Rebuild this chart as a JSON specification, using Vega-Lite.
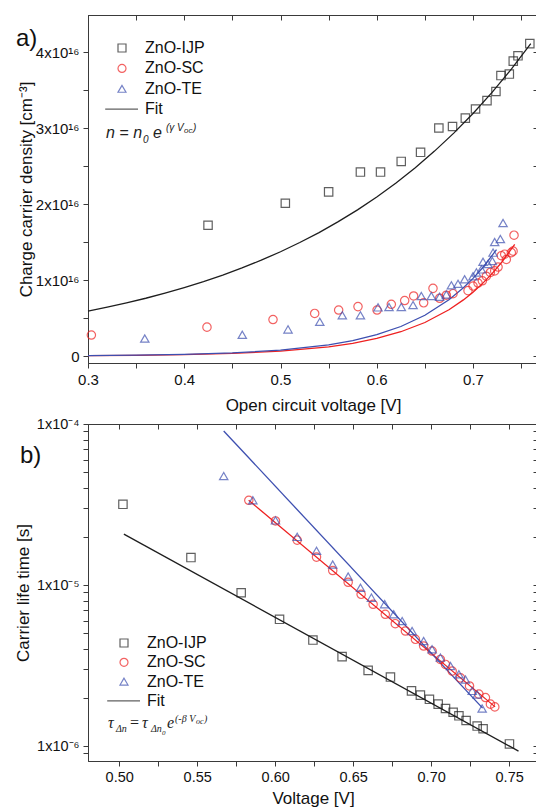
{
  "$schema": "https://vega.github.io/schema/vega-lite/v6.json",
  "padding": {"left": 13, "top": 14, "right": 1, "bottom": 0},
  "background": "white",
  "spacing": 1,
  "config": {
    "font": "Liberation Sans",
    "view": {"stroke": "#3a3a3a", "strokeWidth": 1},
    "axis": {"grid": false, "domainColor": "#3a3a3a", "tickColor": "#3a3a3a", "labelColor": "#111111", "titleColor": "#111111", "labelFont": "Liberation Sans", "titleFont": "Liberation Sans", "labelFontSize": 15, "titleFontSize": 17, "titleFontWeight": "normal", "tickSize": 5, "labelPadding": 4, "labelFlush": false, "labelOverlap": false},
    "legend": {"title": null, "labelFont": "Liberation Sans", "labelFontSize": 16, "labelColor": "#111111", "symbolSize": 64, "symbolStrokeWidth": 1.2, "labelOffset": 15, "padding": 0}
  },
  "datasets": {
    "topPoints": [
      {"series": "ZnO-IJP", "v": 0.4247, "n": 1.72e16}, {"series": "ZnO-IJP", "v": 0.505, "n": 2.01e16}, {"series": "ZnO-IJP", "v": 0.550, "n": 2.16e16}, {"series": "ZnO-IJP", "v": 0.583, "n": 2.42e16}, {"series": "ZnO-IJP", "v": 0.6039, "n": 2.42e16}, {"series": "ZnO-IJP", "v": 0.6254, "n": 2.56e16}, {"series": "ZnO-IJP", "v": 0.6455, "n": 2.68e16}, {"series": "ZnO-IJP", "v": 0.6645, "n": 3.00e16}, {"series": "ZnO-IJP", "v": 0.6787, "n": 3.02e16}, {"series": "ZnO-IJP", "v": 0.692, "n": 3.13e16}, {"series": "ZnO-IJP", "v": 0.7026, "n": 3.25e16}, {"series": "ZnO-IJP", "v": 0.7145, "n": 3.36e16}, {"series": "ZnO-IJP", "v": 0.7238, "n": 3.48e16}, {"series": "ZnO-IJP", "v": 0.729, "n": 3.69e16}, {"series": "ZnO-IJP", "v": 0.7377, "n": 3.71e16}, {"series": "ZnO-IJP", "v": 0.7418, "n": 3.88e16}, {"series": "ZnO-IJP", "v": 0.7467, "n": 3.95e16}, {"series": "ZnO-IJP", "v": 0.759, "n": 4.11e16},
      {"series": "ZnO-SC", "v": 0.3035, "n": 2.76e15}, {"series": "ZnO-SC", "v": 0.4236, "n": 3.8e15}, {"series": "ZnO-SC", "v": 0.4922, "n": 4.8e15}, {"series": "ZnO-SC", "v": 0.5355, "n": 5.6e15}, {"series": "ZnO-SC", "v": 0.5604, "n": 6.05e15}, {"series": "ZnO-SC", "v": 0.5805, "n": 6.5e15}, {"series": "ZnO-SC", "v": 0.6003, "n": 6.05e15}, {"series": "ZnO-SC", "v": 0.6151, "n": 6.8e15}, {"series": "ZnO-SC", "v": 0.629, "n": 7.3e15}, {"series": "ZnO-SC", "v": 0.6383, "n": 7.9e15}, {"series": "ZnO-SC", "v": 0.6487, "n": 7.0e15}, {"series": "ZnO-SC", "v": 0.6584, "n": 8.9e15}, {"series": "ZnO-SC", "v": 0.6654, "n": 7.6e15}, {"series": "ZnO-SC", "v": 0.6723, "n": 8.0e15}, {"series": "ZnO-SC", "v": 0.6792, "n": 8.2e15}, {"series": "ZnO-SC", "v": 0.6948, "n": 8.6e15}, {"series": "ZnO-SC", "v": 0.700, "n": 9.2e15}, {"series": "ZnO-SC", "v": 0.7052, "n": 9.6e15}, {"series": "ZnO-SC", "v": 0.7097, "n": 9.9e15}, {"series": "ZnO-SC", "v": 0.7138, "n": 1.05e16}, {"series": "ZnO-SC", "v": 0.718, "n": 1.10e16}, {"series": "ZnO-SC", "v": 0.7225, "n": 1.12e16}, {"series": "ZnO-SC", "v": 0.726, "n": 1.17e16}, {"series": "ZnO-SC", "v": 0.7294, "n": 1.32e16}, {"series": "ZnO-SC", "v": 0.7329, "n": 1.34e16}, {"series": "ZnO-SC", "v": 0.7346, "n": 1.27e16}, {"series": "ZnO-SC", "v": 0.7398, "n": 1.36e16}, {"series": "ZnO-SC", "v": 0.7416, "n": 1.38e16}, {"series": "ZnO-SC", "v": 0.7426, "n": 1.59e16},
      {"series": "ZnO-TE", "v": 0.359, "n": 2.3e15}, {"series": "ZnO-TE", "v": 0.4603, "n": 2.8e15}, {"series": "ZnO-TE", "v": 0.5078, "n": 3.5e15}, {"series": "ZnO-TE", "v": 0.5408, "n": 4.5e15}, {"series": "ZnO-TE", "v": 0.5642, "n": 5.35e15}, {"series": "ZnO-TE", "v": 0.583, "n": 5.35e15}, {"series": "ZnO-TE", "v": 0.6013, "n": 6.4e15}, {"series": "ZnO-TE", "v": 0.6127, "n": 6.45e15}, {"series": "ZnO-TE", "v": 0.6255, "n": 6.45e15}, {"series": "ZnO-TE", "v": 0.6377, "n": 6.7e15}, {"series": "ZnO-TE", "v": 0.6463, "n": 7.9e15}, {"series": "ZnO-TE", "v": 0.6567, "n": 7.9e15}, {"series": "ZnO-TE", "v": 0.6653, "n": 7.8e15}, {"series": "ZnO-TE", "v": 0.6723, "n": 8.1e15}, {"series": "ZnO-TE", "v": 0.6775, "n": 9.3e15}, {"series": "ZnO-TE", "v": 0.6844, "n": 9.5e15}, {"series": "ZnO-TE", "v": 0.6913, "n": 1.01e16}, {"series": "ZnO-TE", "v": 0.700, "n": 1.05e16}, {"series": "ZnO-TE", "v": 0.7035, "n": 1.10e16}, {"series": "ZnO-TE", "v": 0.7087, "n": 1.14e16}, {"series": "ZnO-TE", "v": 0.7104, "n": 1.24e16}, {"series": "ZnO-TE", "v": 0.7156, "n": 1.21e16}, {"series": "ZnO-TE", "v": 0.7201, "n": 1.25e16}, {"series": "ZnO-TE", "v": 0.7208, "n": 1.36e16}, {"series": "ZnO-TE", "v": 0.7225, "n": 1.50e16}, {"series": "ZnO-TE", "v": 0.7284, "n": 1.54e16}, {"series": "ZnO-TE", "v": 0.7312, "n": 1.75e16}
    ],
    "topFits": [
      {"series": "ZnO-IJP", "v": 0.30, "n": 5.90e15}, {"series": "ZnO-IJP", "v": 0.32, "n": 6.42e15}, {"series": "ZnO-IJP", "v": 0.34, "n": 6.99e15}, {"series": "ZnO-IJP", "v": 0.36, "n": 7.60e15}, {"series": "ZnO-IJP", "v": 0.38, "n": 8.27e15}, {"series": "ZnO-IJP", "v": 0.40, "n": 9.00e15}, {"series": "ZnO-IJP", "v": 0.42, "n": 9.79e15}, {"series": "ZnO-IJP", "v": 0.44, "n": 1.065e16}, {"series": "ZnO-IJP", "v": 0.46, "n": 1.159e16}, {"series": "ZnO-IJP", "v": 0.48, "n": 1.261e16}, {"series": "ZnO-IJP", "v": 0.50, "n": 1.372e16}, {"series": "ZnO-IJP", "v": 0.52, "n": 1.493e16}, {"series": "ZnO-IJP", "v": 0.54, "n": 1.624e16}, {"series": "ZnO-IJP", "v": 0.56, "n": 1.768e16}, {"series": "ZnO-IJP", "v": 0.58, "n": 1.923e16}, {"series": "ZnO-IJP", "v": 0.60, "n": 2.093e16}, {"series": "ZnO-IJP", "v": 0.62, "n": 2.277e16}, {"series": "ZnO-IJP", "v": 0.64, "n": 2.477e16}, {"series": "ZnO-IJP", "v": 0.66, "n": 2.696e16}, {"series": "ZnO-IJP", "v": 0.68, "n": 2.933e16}, {"series": "ZnO-IJP", "v": 0.70, "n": 3.191e16}, {"series": "ZnO-IJP", "v": 0.72, "n": 3.472e16}, {"series": "ZnO-IJP", "v": 0.74, "n": 3.778e16}, {"series": "ZnO-IJP", "v": 0.76, "n": 4.111e16},
      {"series": "ZnO-SC", "v": 0.30, "n": 4.8e13}, {"series": "ZnO-SC", "v": 0.35, "n": 9.2e13}, {"series": "ZnO-SC", "v": 0.40, "n": 1.75e14}, {"series": "ZnO-SC", "v": 0.45, "n": 3.34e14}, {"series": "ZnO-SC", "v": 0.50, "n": 6.37e14}, {"series": "ZnO-SC", "v": 0.55, "n": 1.213e15}, {"series": "ZnO-SC", "v": 0.575, "n": 1.675e15}, {"series": "ZnO-SC", "v": 0.60, "n": 2.313e15}, {"series": "ZnO-SC", "v": 0.625, "n": 3.192e15}, {"series": "ZnO-SC", "v": 0.65, "n": 4.407e15}, {"series": "ZnO-SC", "v": 0.675, "n": 6.084e15}, {"series": "ZnO-SC", "v": 0.69, "n": 7.384e15}, {"series": "ZnO-SC", "v": 0.70, "n": 8.40e15}, {"series": "ZnO-SC", "v": 0.71, "n": 9.557e15}, {"series": "ZnO-SC", "v": 0.72, "n": 1.0872e16}, {"series": "ZnO-SC", "v": 0.73, "n": 1.237e16}, {"series": "ZnO-SC", "v": 0.7433, "n": 1.468e16},
      {"series": "ZnO-TE", "v": 0.30, "n": 5.9e13}, {"series": "ZnO-TE", "v": 0.35, "n": 1.12e14}, {"series": "ZnO-TE", "v": 0.40, "n": 2.13e14}, {"series": "ZnO-TE", "v": 0.45, "n": 4.06e14}, {"series": "ZnO-TE", "v": 0.50, "n": 7.74e14}, {"series": "ZnO-TE", "v": 0.55, "n": 1.475e15}, {"series": "ZnO-TE", "v": 0.575, "n": 2.036e15}, {"series": "ZnO-TE", "v": 0.60, "n": 2.811e15}, {"series": "ZnO-TE", "v": 0.625, "n": 3.880e15}, {"series": "ZnO-TE", "v": 0.65, "n": 5.357e15}, {"series": "ZnO-TE", "v": 0.675, "n": 7.397e15}, {"series": "ZnO-TE", "v": 0.69, "n": 8.975e15}, {"series": "ZnO-TE", "v": 0.70, "n": 1.0211e16}, {"series": "ZnO-TE", "v": 0.71, "n": 1.1617e16}, {"series": "ZnO-TE", "v": 0.7244, "n": 1.3988e16}
    ],
    "botPoints": [
      {"series": "ZnO-IJP", "v": 0.5024, "t": 3.17e-5}, {"series": "ZnO-IJP", "v": 0.546, "t": 1.48e-5}, {"series": "ZnO-IJP", "v": 0.5782, "t": 8.95e-6}, {"series": "ZnO-IJP", "v": 0.6028, "t": 6.12e-6}, {"series": "ZnO-IJP", "v": 0.6242, "t": 4.55e-6}, {"series": "ZnO-IJP", "v": 0.6429, "t": 3.59e-6}, {"series": "ZnO-IJP", "v": 0.6596, "t": 2.95e-6}, {"series": "ZnO-IJP", "v": 0.6739, "t": 2.68e-6}, {"series": "ZnO-IJP", "v": 0.6874, "t": 2.20e-6}, {"series": "ZnO-IJP", "v": 0.6931, "t": 2.07e-6}, {"series": "ZnO-IJP", "v": 0.6989, "t": 1.95e-6}, {"series": "ZnO-IJP", "v": 0.7045, "t": 1.82e-6}, {"series": "ZnO-IJP", "v": 0.7092, "t": 1.71e-6}, {"series": "ZnO-IJP", "v": 0.7141, "t": 1.62e-6}, {"series": "ZnO-IJP", "v": 0.7178, "t": 1.54e-6}, {"series": "ZnO-IJP", "v": 0.7224, "t": 1.44e-6}, {"series": "ZnO-IJP", "v": 0.7295, "t": 1.33e-6}, {"series": "ZnO-IJP", "v": 0.7333, "t": 1.28e-6}, {"series": "ZnO-IJP", "v": 0.7502, "t": 1.03e-6},
      {"series": "ZnO-SC", "v": 0.5831, "t": 3.36e-5}, {"series": "ZnO-SC", "v": 0.6002, "t": 2.50e-5}, {"series": "ZnO-SC", "v": 0.6141, "t": 1.90e-5}, {"series": "ZnO-SC", "v": 0.6265, "t": 1.49e-5}, {"series": "ZnO-SC", "v": 0.6369, "t": 1.23e-5}, {"series": "ZnO-SC", "v": 0.6468, "t": 1.04e-5}, {"series": "ZnO-SC", "v": 0.6551, "t": 8.75e-6}, {"series": "ZnO-SC", "v": 0.6628, "t": 7.59e-6}, {"series": "ZnO-SC", "v": 0.6706, "t": 6.58e-6}, {"series": "ZnO-SC", "v": 0.677, "t": 5.75e-6}, {"series": "ZnO-SC", "v": 0.6835, "t": 5.18e-6}, {"series": "ZnO-SC", "v": 0.6899, "t": 4.60e-6}, {"series": "ZnO-SC", "v": 0.6952, "t": 4.18e-6}, {"series": "ZnO-SC", "v": 0.7006, "t": 3.89e-6}, {"series": "ZnO-SC", "v": 0.7059, "t": 3.45e-6}, {"series": "ZnO-SC", "v": 0.7092, "t": 3.21e-6}, {"series": "ZnO-SC", "v": 0.7135, "t": 2.92e-6}, {"series": "ZnO-SC", "v": 0.7188, "t": 2.65e-6}, {"series": "ZnO-SC", "v": 0.7246, "t": 2.36e-6}, {"series": "ZnO-SC", "v": 0.7306, "t": 2.10e-6}, {"series": "ZnO-SC", "v": 0.7348, "t": 2.00e-6}, {"series": "ZnO-SC", "v": 0.738, "t": 1.82e-6}, {"series": "ZnO-SC", "v": 0.7408, "t": 1.75e-6},
      {"series": "ZnO-TE", "v": 0.567, "t": 4.75e-5}, {"series": "ZnO-TE", "v": 0.5857, "t": 3.36e-5}, {"series": "ZnO-TE", "v": 0.6002, "t": 2.52e-5}, {"series": "ZnO-TE", "v": 0.6141, "t": 1.99e-5}, {"series": "ZnO-TE", "v": 0.6265, "t": 1.63e-5}, {"series": "ZnO-TE", "v": 0.6369, "t": 1.34e-5}, {"series": "ZnO-TE", "v": 0.6468, "t": 1.13e-5}, {"series": "ZnO-TE", "v": 0.6547, "t": 9.62e-6}, {"series": "ZnO-TE", "v": 0.6617, "t": 8.34e-6}, {"series": "ZnO-TE", "v": 0.6702, "t": 7.6e-6}, {"series": "ZnO-TE", "v": 0.676, "t": 6.58e-6}, {"series": "ZnO-TE", "v": 0.6814, "t": 5.97e-6}, {"series": "ZnO-TE", "v": 0.6878, "t": 5.18e-6}, {"series": "ZnO-TE", "v": 0.6952, "t": 4.49e-6}, {"series": "ZnO-TE", "v": 0.7006, "t": 3.99e-6}, {"series": "ZnO-TE", "v": 0.7059, "t": 3.54e-6}, {"series": "ZnO-TE", "v": 0.7124, "t": 3.14e-6}, {"series": "ZnO-TE", "v": 0.7178, "t": 2.79e-6}, {"series": "ZnO-TE", "v": 0.722, "t": 2.59e-6}, {"series": "ZnO-TE", "v": 0.7263, "t": 2.20e-6}, {"series": "ZnO-TE", "v": 0.7295, "t": 2.09e-6}, {"series": "ZnO-TE", "v": 0.7327, "t": 1.71e-6}
    ],
    "botFits": [
      {"series": "ZnO-IJP", "v": 0.503, "t": 2.07e-5}, {"series": "ZnO-IJP", "v": 0.756, "t": 9.3e-7},
      {"series": "ZnO-SC", "v": 0.583, "t": 3.36e-5}, {"series": "ZnO-SC", "v": 0.741, "t": 1.75e-6},
      {"series": "ZnO-TE", "v": 0.567, "t": 9.05e-5}, {"series": "ZnO-TE", "v": 0.733, "t": 1.72e-6}
    ]
  },
  "resolve": {"scale": {"color": "independent", "shape": "independent"}, "legend": {"color": "independent", "shape": "independent"}},
  "vconcat": [
    {
      "width": 450,
      "height": 348,
      "resolve": {"axis": {"x": "independent", "y": "independent"}, "scale": {"color": "independent", "shape": "independent"}, "legend": {"color": "independent", "shape": "independent"}},
      "layer": [
        {
          "data": {"name": "topFits"},
          "mark": {"type": "line", "strokeWidth": 1.3},
          "encoding": {
            "x": {"field": "v", "type": "quantitative", "scale": {"domain": [0.3, 0.7675], "nice": false, "zero": false}, "axis": {"orient": "top", "values": [0.3, 0.35, 0.4, 0.45, 0.5, 0.55, 0.6, 0.65, 0.7, 0.75], "labels": false, "tickSize": -5, "title": null}},
            "y": {"field": "n", "type": "quantitative", "scale": {"domain": [-9.2e14, 4.487e16], "nice": false, "zero": false}, "axis": {"orient": "right", "values": [0, 5e15, 1e16, 1.5e16, 2e16, 2.5e16, 3e16, 3.5e16, 4e16], "labels": false, "tickSize": -5, "title": null}},
            "color": {"field": "series", "type": "nominal", "scale": {"domain": ["ZnO-IJP", "ZnO-SC", "ZnO-TE"], "range": ["#1e1e1e", "#ee2020", "#3d4fb0"]}, "legend": null}
          }
        },
        {
          "data": {"name": "topPoints"},
          "mark": {"type": "point", "filled": false, "size": 70, "strokeWidth": 1.2},
          "encoding": {
            "x": {"field": "v", "type": "quantitative", "scale": {"domain": [0.3, 0.7675], "nice": false, "zero": false}, "axis": {"orient": "bottom", "values": [0.3, 0.35, 0.4, 0.45, 0.5, 0.55, 0.6, 0.65, 0.7, 0.75], "labelExpr": "round(datum.value*100) % 10 == 0 ? format(datum.value, '.1f') : ''", "title": "Open circuit voltage [V]", "titlePadding": 10}},
            "y": {"field": "n", "type": "quantitative", "scale": {"domain": [-9.2e14, 4.487e16], "nice": false, "zero": false}, "axis": {"orient": "left", "values": [0, 5e15, 1e16, 1.5e16, 2e16, 2.5e16, 3e16, 3.5e16, 4e16], "labelExpr": "datum.value == 0 ? '0' : (round(datum.value/5e15) % 2 == 0 ? format(datum.value/1e16, 'd') + 'x10¹⁶' : '')", "title": "Charge carrier density [cm⁻³]", "titlePadding": 0}},
            "color": {"field": "series", "type": "nominal", "scale": {"domain": ["ZnO-IJP", "ZnO-SC", "ZnO-TE", "Fit"], "range": ["#1e1e1e", "#ee2020", "#3d4fb0", "#1e1e1e"]}, "legend": {"orient": "none", "legendX": 26, "legendY": 25, "rowPadding": 4.4}},
            "shape": {"field": "series", "type": "nominal", "scale": {"domain": ["ZnO-IJP", "ZnO-SC", "ZnO-TE", "Fit"], "range": ["square", "circle", "triangle-up", "M-4.2,0H4"]}, "legend": {"orient": "none", "legendX": 26, "legendY": 25, "rowPadding": 4.4}}
          }
        },
        {
          "data": {"values": [{}]},
          "mark": {"type": "text", "text": "a)", "font": "Liberation Sans", "fontSize": 24, "align": "left", "baseline": "alphabetic", "dx": -72, "color": "#111111"},
          "encoding": {
            "x": {"datum": 0.3, "type": "quantitative", "scale": {"domain": [0.3, 0.7675], "nice": false, "zero": false}, "axis": null},
            "y": {"datum": 4.079e16, "type": "quantitative", "scale": {"domain": [-9.2e14, 4.487e16], "nice": false, "zero": false}, "axis": null}
          }
        },
        {
          "data": {"values": [{}]},
          "mark": {"type": "text", "text": "n = n", "font": "Liberation Sans", "fontStyle": "italic", "fontSize": 16, "align": "left", "baseline": "alphabetic", "dx": 18, "color": "#222222"},
          "encoding": {
            "x": {"datum": 0.3, "type": "quantitative", "scale": {"domain": [0.3, 0.7675], "nice": false, "zero": false}, "axis": null},
            "y": {"datum": 2.868e16, "type": "quantitative", "scale": {"domain": [-9.2e14, 4.487e16], "nice": false, "zero": false}, "axis": null}
          }
        },
        {
          "data": {"values": [{}]},
          "mark": {"type": "text", "text": "0", "font": "Liberation Sans", "fontStyle": "italic", "fontSize": 10, "align": "left", "baseline": "alphabetic", "dx": 55, "dy": 5, "color": "#222222"},
          "encoding": {
            "x": {"datum": 0.3, "type": "quantitative", "scale": {"domain": [0.3, 0.7675], "nice": false, "zero": false}, "axis": null},
            "y": {"datum": 2.868e16, "type": "quantitative", "scale": {"domain": [-9.2e14, 4.487e16], "nice": false, "zero": false}, "axis": null}
          }
        },
        {
          "data": {"values": [{}]},
          "mark": {"type": "text", "text": "e", "font": "Liberation Sans", "fontStyle": "italic", "fontSize": 16, "align": "left", "baseline": "alphabetic", "dx": 65, "color": "#222222"},
          "encoding": {
            "x": {"datum": 0.3, "type": "quantitative", "scale": {"domain": [0.3, 0.7675], "nice": false, "zero": false}, "axis": null},
            "y": {"datum": 2.868e16, "type": "quantitative", "scale": {"domain": [-9.2e14, 4.487e16], "nice": false, "zero": false}, "axis": null}
          }
        },
        {
          "data": {"values": [{}]},
          "mark": {"type": "text", "text": "(γ V", "font": "Liberation Sans", "fontStyle": "italic", "fontSize": 10, "align": "left", "baseline": "alphabetic", "dx": 78, "dy": -7, "color": "#222222"},
          "encoding": {
            "x": {"datum": 0.3, "type": "quantitative", "scale": {"domain": [0.3, 0.7675], "nice": false, "zero": false}, "axis": null},
            "y": {"datum": 2.868e16, "type": "quantitative", "scale": {"domain": [-9.2e14, 4.487e16], "nice": false, "zero": false}, "axis": null}
          }
        },
        {
          "data": {"values": [{}]},
          "mark": {"type": "text", "text": "oc", "font": "Liberation Sans", "fontStyle": "italic", "fontSize": 8, "align": "left", "baseline": "alphabetic", "dx": 96, "dy": -5, "color": "#222222"},
          "encoding": {
            "x": {"datum": 0.3, "type": "quantitative", "scale": {"domain": [0.3, 0.7675], "nice": false, "zero": false}, "axis": null},
            "y": {"datum": 2.868e16, "type": "quantitative", "scale": {"domain": [-9.2e14, 4.487e16], "nice": false, "zero": false}, "axis": null}
          }
        },
        {
          "data": {"values": [{}]},
          "mark": {"type": "text", "text": ")", "font": "Liberation Sans", "fontStyle": "italic", "fontSize": 10, "align": "left", "baseline": "alphabetic", "dx": 105, "dy": -7, "color": "#222222"},
          "encoding": {
            "x": {"datum": 0.3, "type": "quantitative", "scale": {"domain": [0.3, 0.7675], "nice": false, "zero": false}, "axis": null},
            "y": {"datum": 2.868e16, "type": "quantitative", "scale": {"domain": [-9.2e14, 4.487e16], "nice": false, "zero": false}, "axis": null}
          }
        }
      ]
    },
    {
      "width": 450,
      "height": 337,
      "resolve": {"axis": {"x": "independent", "y": "independent"}, "scale": {"color": "independent", "shape": "independent"}, "legend": {"color": "independent", "shape": "independent"}},
      "layer": [
        {
          "data": {"name": "botFits"},
          "mark": {"type": "line", "strokeWidth": 1.3},
          "encoding": {
            "x": {"field": "v", "type": "quantitative", "scale": {"domain": [0.48, 0.7685], "nice": false, "zero": false}, "axis": {"orient": "top", "values": [0.5, 0.525, 0.55, 0.575, 0.6, 0.625, 0.65, 0.675, 0.7, 0.725, 0.75], "labels": false, "tickSize": -5, "title": null}},
            "y": {"field": "t", "type": "quantitative", "scale": {"type": "log", "domain": [8.07e-7, 1e-4], "nice": false}, "axis": {"orient": "right", "values": [9e-7, 1e-6, 2e-6, 3e-6, 4e-6, 5e-6, 6e-6, 7e-6, 8e-6, 9e-6, 1e-5, 2e-5, 3e-5, 4e-5, 5e-5, 6e-5, 7e-5, 8e-5, 9e-5, 1e-4], "labels": false, "tickSize": -5, "title": null}},
            "color": {"field": "series", "type": "nominal", "scale": {"domain": ["ZnO-IJP", "ZnO-SC", "ZnO-TE"], "range": ["#1e1e1e", "#ee2020", "#3d4fb0"]}, "legend": null}
          }
        },
        {
          "data": {"name": "botPoints"},
          "mark": {"type": "point", "filled": false, "size": 70, "strokeWidth": 1.2},
          "encoding": {
            "x": {"field": "v", "type": "quantitative", "scale": {"domain": [0.48, 0.7685], "nice": false, "zero": false}, "axis": {"orient": "bottom", "values": [0.5, 0.525, 0.55, 0.575, 0.6, 0.625, 0.65, 0.675, 0.7, 0.725, 0.75], "labelExpr": "round(datum.value*1000) % 50 == 0 ? format(datum.value, '.2f') : ''", "title": "Voltage [V]", "titlePadding": 7, "labelFontSize": 14.5}},
            "y": {"field": "t", "type": "quantitative", "scale": {"type": "log", "domain": [8.07e-7, 1e-4], "nice": false}, "axis": {"orient": "left", "values": [9e-7, 1e-6, 2e-6, 3e-6, 4e-6, 5e-6, 6e-6, 7e-6, 8e-6, 9e-6, 1e-5, 2e-5, 3e-5, 4e-5, 5e-5, 6e-5, 7e-5, 8e-5, 9e-5, 1e-4], "labelExpr": "datum.value > 9.9e-5 ? '1x10⁻⁴' : (abs(datum.value - 1e-5) < 1e-9 ? '1x10⁻⁵' : (abs(datum.value - 1e-6) < 1e-10 ? '1x10⁻⁶' : ''))", "title": "Carrier life time [s]", "titlePadding": 4, "labelFontSize": 14.5}},
            "color": {"field": "series", "type": "nominal", "scale": {"domain": ["ZnO-IJP", "ZnO-SC", "ZnO-TE", "Fit"], "range": ["#1e1e1e", "#ee2020", "#3d4fb0", "#1e1e1e"]}, "legend": {"orient": "none", "legendX": 28, "legendY": 211, "rowPadding": 3.3}},
            "shape": {"field": "series", "type": "nominal", "scale": {"domain": ["ZnO-IJP", "ZnO-SC", "ZnO-TE", "Fit"], "range": ["square", "circle", "triangle-up", "M-4.2,0H4"]}, "legend": {"orient": "none", "legendX": 28, "legendY": 211, "rowPadding": 3.3}}
          }
        },
        {
          "data": {"values": [{}]},
          "mark": {"type": "text", "text": "b)", "font": "Liberation Sans", "fontSize": 24, "align": "left", "baseline": "alphabetic", "dx": -68, "color": "#111111"},
          "encoding": {
            "x": {"datum": 0.48, "type": "quantitative", "scale": {"domain": [0.48, 0.7685], "nice": false, "zero": false}, "axis": null},
            "y": {"datum": 5.73e-5, "type": "quantitative", "scale": {"type": "log", "domain": [8.07e-7, 1e-4], "nice": false}, "axis": null}
          }
        },
        {
          "data": {"values": [{}]},
          "mark": {"type": "text", "text": "τ", "font": "Liberation Serif", "fontStyle": "italic", "fontSize": 16, "align": "left", "baseline": "alphabetic", "dx": 20, "color": "#222222"},
          "encoding": {
            "x": {"datum": 0.48, "type": "quantitative", "scale": {"domain": [0.48, 0.7685], "nice": false, "zero": false}, "axis": null},
            "y": {"datum": 1.294e-6, "type": "quantitative", "scale": {"type": "log", "domain": [8.07e-7, 1e-4], "nice": false}, "axis": null}
          }
        },
        {
          "data": {"values": [{}]},
          "mark": {"type": "text", "text": "Δn", "font": "Liberation Serif", "fontStyle": "italic", "fontSize": 10, "align": "left", "baseline": "alphabetic", "dx": 28, "dy": 4, "color": "#222222"},
          "encoding": {
            "x": {"datum": 0.48, "type": "quantitative", "scale": {"domain": [0.48, 0.7685], "nice": false, "zero": false}, "axis": null},
            "y": {"datum": 1.294e-6, "type": "quantitative", "scale": {"type": "log", "domain": [8.07e-7, 1e-4], "nice": false}, "axis": null}
          }
        },
        {
          "data": {"values": [{}]},
          "mark": {"type": "text", "text": "=", "font": "Liberation Serif", "fontSize": 16, "align": "left", "baseline": "alphabetic", "dx": 42, "color": "#222222"},
          "encoding": {
            "x": {"datum": 0.48, "type": "quantitative", "scale": {"domain": [0.48, 0.7685], "nice": false, "zero": false}, "axis": null},
            "y": {"datum": 1.294e-6, "type": "quantitative", "scale": {"type": "log", "domain": [8.07e-7, 1e-4], "nice": false}, "axis": null}
          }
        },
        {
          "data": {"values": [{}]},
          "mark": {"type": "text", "text": "τ", "font": "Liberation Serif", "fontStyle": "italic", "fontSize": 16, "align": "left", "baseline": "alphabetic", "dx": 54, "color": "#222222"},
          "encoding": {
            "x": {"datum": 0.48, "type": "quantitative", "scale": {"domain": [0.48, 0.7685], "nice": false, "zero": false}, "axis": null},
            "y": {"datum": 1.294e-6, "type": "quantitative", "scale": {"type": "log", "domain": [8.07e-7, 1e-4], "nice": false}, "axis": null}
          }
        },
        {
          "data": {"values": [{}]},
          "mark": {"type": "text", "text": "Δn", "font": "Liberation Serif", "fontStyle": "italic", "fontSize": 10, "align": "left", "baseline": "alphabetic", "dx": 63, "dy": 4, "color": "#222222"},
          "encoding": {
            "x": {"datum": 0.48, "type": "quantitative", "scale": {"domain": [0.48, 0.7685], "nice": false, "zero": false}, "axis": null},
            "y": {"datum": 1.294e-6, "type": "quantitative", "scale": {"type": "log", "domain": [8.07e-7, 1e-4], "nice": false}, "axis": null}
          }
        },
        {
          "data": {"values": [{}]},
          "mark": {"type": "text", "text": "0", "font": "Liberation Serif", "fontStyle": "italic", "fontSize": 7, "align": "left", "baseline": "alphabetic", "dx": 74, "dy": 7, "color": "#222222"},
          "encoding": {
            "x": {"datum": 0.48, "type": "quantitative", "scale": {"domain": [0.48, 0.7685], "nice": false, "zero": false}, "axis": null},
            "y": {"datum": 1.294e-6, "type": "quantitative", "scale": {"type": "log", "domain": [8.07e-7, 1e-4], "nice": false}, "axis": null}
          }
        },
        {
          "data": {"values": [{}]},
          "mark": {"type": "text", "text": "e", "font": "Liberation Serif", "fontStyle": "italic", "fontSize": 16, "align": "left", "baseline": "alphabetic", "dx": 79, "color": "#222222"},
          "encoding": {
            "x": {"datum": 0.48, "type": "quantitative", "scale": {"domain": [0.48, 0.7685], "nice": false, "zero": false}, "axis": null},
            "y": {"datum": 1.294e-6, "type": "quantitative", "scale": {"type": "log", "domain": [8.07e-7, 1e-4], "nice": false}, "axis": null}
          }
        },
        {
          "data": {"values": [{}]},
          "mark": {"type": "text", "text": "(-β V", "font": "Liberation Serif", "fontStyle": "italic", "fontSize": 10, "align": "left", "baseline": "alphabetic", "dx": 87, "dy": -6, "color": "#222222"},
          "encoding": {
            "x": {"datum": 0.48, "type": "quantitative", "scale": {"domain": [0.48, 0.7685], "nice": false, "zero": false}, "axis": null},
            "y": {"datum": 1.294e-6, "type": "quantitative", "scale": {"type": "log", "domain": [8.07e-7, 1e-4], "nice": false}, "axis": null}
          }
        },
        {
          "data": {"values": [{}]},
          "mark": {"type": "text", "text": "oc", "font": "Liberation Serif", "fontStyle": "italic", "fontSize": 8, "align": "left", "baseline": "alphabetic", "dx": 108, "dy": -4, "color": "#222222"},
          "encoding": {
            "x": {"datum": 0.48, "type": "quantitative", "scale": {"domain": [0.48, 0.7685], "nice": false, "zero": false}, "axis": null},
            "y": {"datum": 1.294e-6, "type": "quantitative", "scale": {"type": "log", "domain": [8.07e-7, 1e-4], "nice": false}, "axis": null}
          }
        },
        {
          "data": {"values": [{}]},
          "mark": {"type": "text", "text": ")", "font": "Liberation Serif", "fontStyle": "italic", "fontSize": 10, "align": "left", "baseline": "alphabetic", "dx": 116, "dy": -6, "color": "#222222"},
          "encoding": {
            "x": {"datum": 0.48, "type": "quantitative", "scale": {"domain": [0.48, 0.7685], "nice": false, "zero": false}, "axis": null},
            "y": {"datum": 1.294e-6, "type": "quantitative", "scale": {"type": "log", "domain": [8.07e-7, 1e-4], "nice": false}, "axis": null}
          }
        }
      ]
    }
  ]
}
